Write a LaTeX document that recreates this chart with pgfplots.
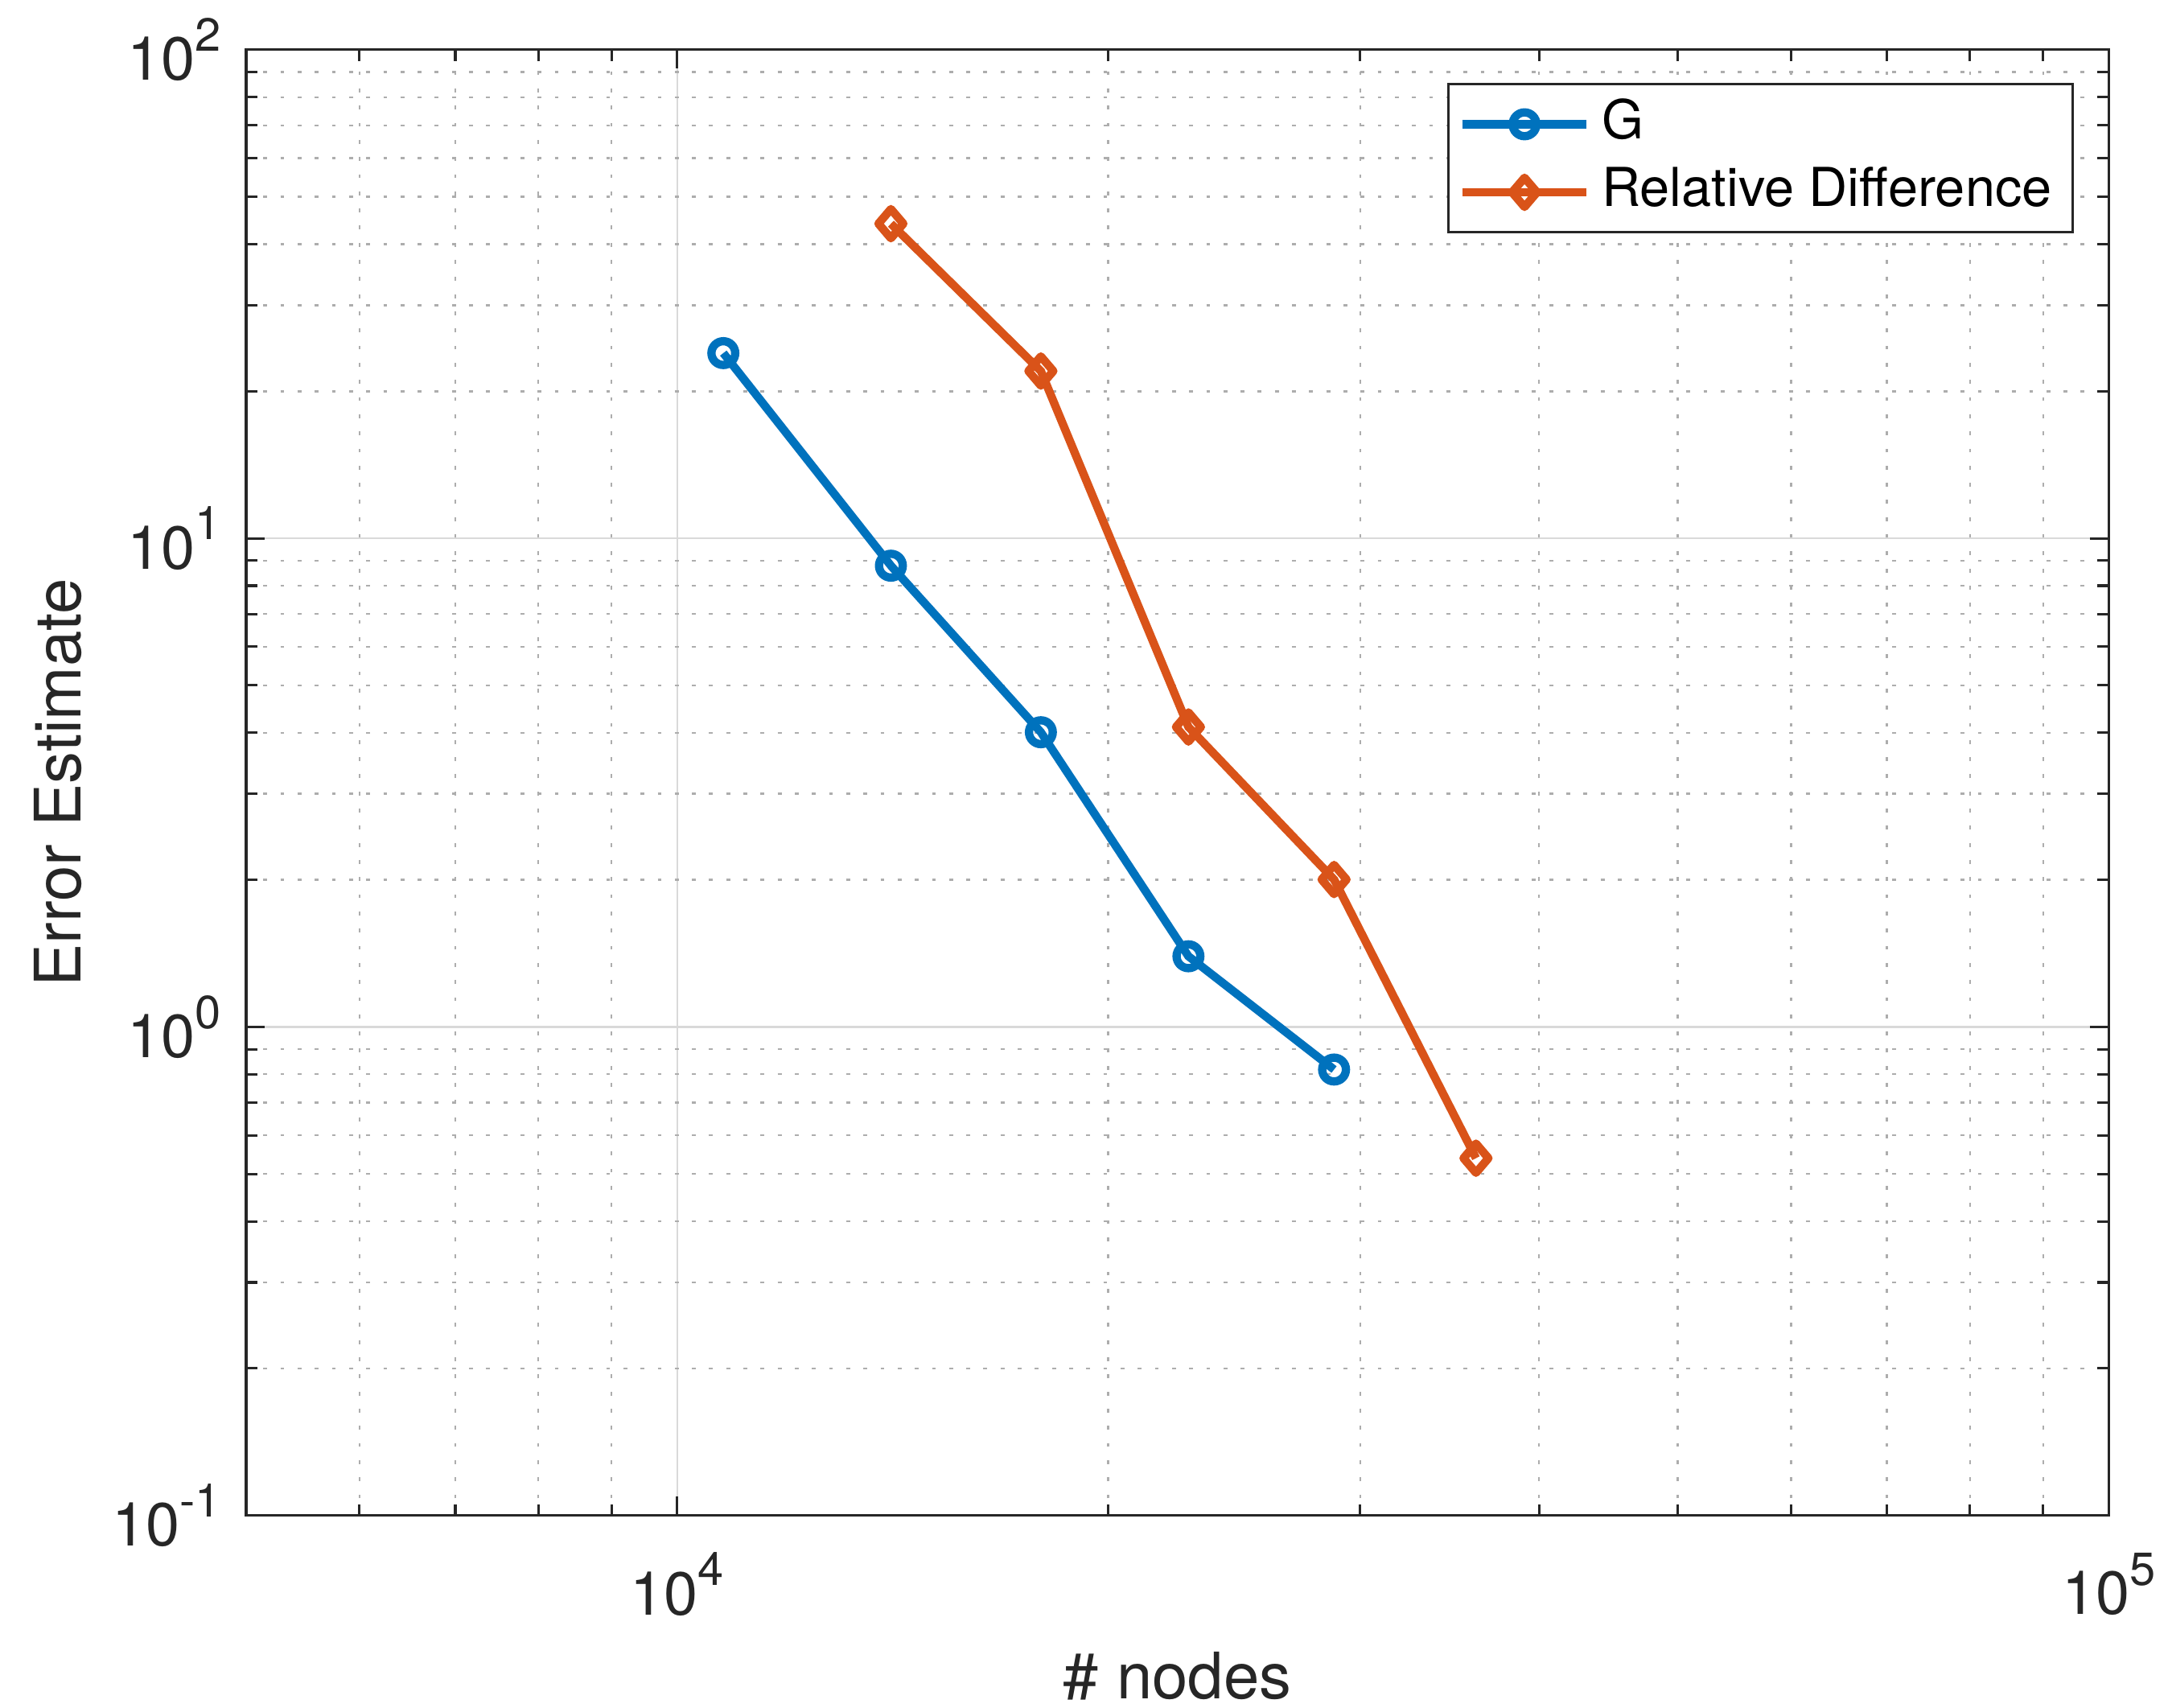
\documentclass[border=0pt]{standalone}
\usepackage{pgfplots}
\pgfplotsset{compat=1.18}
\usepackage{fontspec}
\setmainfont{TeX Gyre Heros}
\definecolor{mblue}{rgb}{0,0.447,0.741}
\definecolor{morange}{rgb}{0.85,0.325,0.098}
\definecolor{axcol}{rgb}{0.15,0.15,0.15}
\newcommand{\tl}[1]{10\raisebox{5.3pt}{\fontsize{8.4}{9}\selectfont #1}}
\begin{document}
\begin{tikzpicture}
\begin{axis}[
  scale only axis,
  width=336.75pt, height=265pt,
  xmode=log, ymode=log,
  xmin=5000, xmax=1e5, ymin=0.1, ymax=100,
  axis line style={color=axcol, line width=0.45pt},
  tick style={color=axcol, line width=0.45pt},
  tick align=inside,
  major tick length=3.4pt, minor tick length=2pt,
  xtick={1e4,1e5},
  xticklabels={\tl{4},\tl{5}},
  ytick={0.1,1,10,100},
  yticklabels={\tl{-1},\tl{0},\tl{1},\tl{2}},
  minor xtick={6000,7000,8000,9000,20000,30000,40000,50000,60000,70000,80000,90000},
  minor ytick={0.2,0.3,0.4,0.5,0.6,0.7,0.8,0.9,2,3,4,5,6,7,8,9,20,30,40,50,60,70,80,90},
  grid=both,
  major grid style={color=black!15, line width=0.35pt},
  minor grid style={color=black!32, line width=0.35pt, dash pattern=on 0.7pt off 2.4pt},
  ticklabel style={font=\fontsize{11}{13}\selectfont, text=axcol},
  xticklabel style={yshift=-3.2pt},
  yticklabel style={xshift=-1pt},
  every axis x label/.style={at={(axis description cs:0.5,0)}, yshift=-29pt, anchor=center, font=\fontsize{11.6}{13}\selectfont, text=axcol},
  every axis y label/.style={at={(axis description cs:0,0.5)}, xshift=-34pt, rotate=90, anchor=center, font=\fontsize{11.6}{13}\selectfont, text=axcol},
  xlabel={\# nodes},
  ylabel={Error Estimate},
  legend cell align=left,
  legend style={at={(1,1)}, anchor=north east, xshift=-6.25pt, yshift=-6pt,
    draw=axcol, line width=0.45pt, inner xsep=1.8pt, inner ysep=1.1pt, row sep=0pt,
    font=\fontsize{9.7}{11}\selectfont,
    nodes={text height=7.7pt, text depth=2.6pt, inner ysep=1pt}},
  legend image code/.code={
    \draw[mark repeat=2, mark phase=2] plot coordinates {(0pt,0pt) (11.25pt,0pt) (22.5pt,0pt)};},
]
\addplot[color=mblue, line width=1.5pt, mark=o, mark size=2.15pt] coordinates {
  (10772,23.94) (14105,8.79) (17953,4.01) (22762,1.395) (28770,0.818)
};
\addlegendentry{G}
\addplot[color=morange, line width=1.5pt, mark=diamond, mark size=3pt, mark options={yscale=0.88, line join=round}] coordinates {
  (14105,44.06) (17953,22.0) (22762,4.11) (28770,2.003) (36150,0.5386)
};
\addlegendentry{Relative Difference}
\end{axis}
\pgfresetboundingbox
\path[use as bounding box] ([xshift=-44.5pt,yshift=-34.75pt]current axis.south west) rectangle ([xshift=10.75pt,yshift=9pt]current axis.north east);
\end{tikzpicture}
\end{document}
